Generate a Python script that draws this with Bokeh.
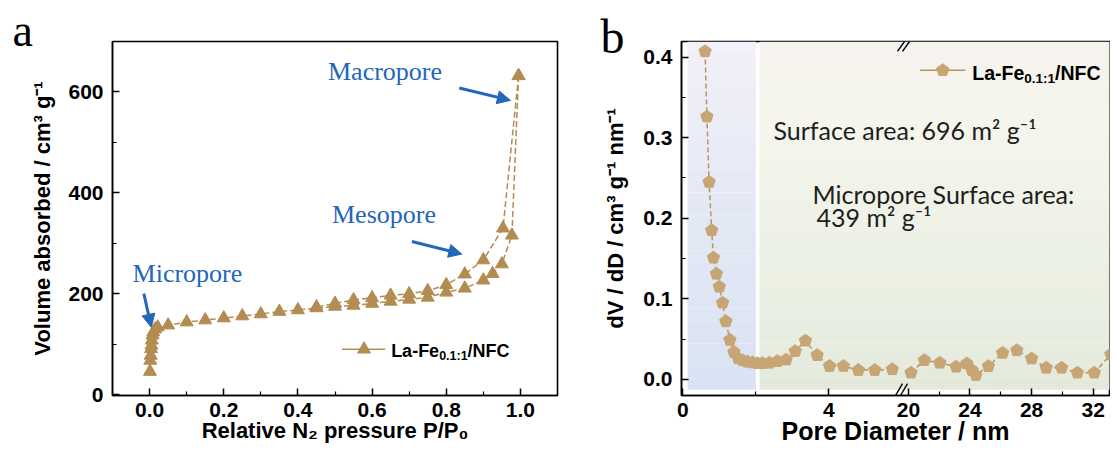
import numpy as np
from bokeh.plotting import figure
from bokeh.layouts import row
from bokeh.models import (Range1d, FixedTicker, NumeralTickFormatter, CustomJSTickFormatter,
                          Label, Arrow, NormalHead, BoxAnnotation)
from bokeh.embed import file_html
from bokeh.resources import INLINE

# ---------------- data: panel a (N2 adsorption / desorption isotherm) ----------------
ads_p = [0.001, 0.002, 0.003, 0.004, 0.005, 0.006, 0.008, 0.010, 0.015, 0.022, 0.05, 0.10,
         0.15, 0.20, 0.25, 0.30, 0.35, 0.40, 0.45, 0.50, 0.55, 0.60, 0.65, 0.70, 0.75, 0.80,
         0.85, 0.90, 0.925, 0.95, 0.977, 0.995]
ads_v = [46, 68, 78, 91, 98, 108, 118, 124, 130, 134, 138, 144, 148, 152, 156, 160, 165, 168,
         172, 175, 177, 181, 185, 189, 193, 203, 211, 227, 240, 259, 316, 632]
des_p = [0.995, 0.953, 0.90, 0.85, 0.80, 0.75, 0.70, 0.65, 0.60, 0.55, 0.50, 0.45]
des_v = [632, 330, 267, 239, 218, 206, 200, 197, 192, 188, 181, 174]

# ---------------- data: panel b (pore size distribution, broken x axis) ----------------
pd_lo = [0.61, 0.66, 0.72, 0.79, 0.84, 0.92, 1.00, 1.09, 1.18, 1.29, 1.40, 1.52, 1.64, 1.77,
         1.91, 2.05, 2.18, 2.37, 2.59, 2.83, 3.08, 3.36, 3.68, 4.02, 4.40, 4.81, 5.26, 5.74]
dv_lo = [0.407, 0.326, 0.245, 0.185, 0.151, 0.131, 0.115, 0.095, 0.072, 0.049, 0.034, 0.026,
         0.0235, 0.0218, 0.021, 0.020, 0.020, 0.0205, 0.0226, 0.0245, 0.035, 0.048, 0.030,
         0.0165, 0.0165, 0.0115, 0.0115, 0.0125]
pd_hi = [20.17, 21.04, 22.04, 23.10, 23.80, 24.13, 24.38, 25.20, 26.12, 27.04, 28.00, 28.95,
         29.95, 30.97, 32.07, 33.15]
dv_hi = [0.0082, 0.0238, 0.0205, 0.0156, 0.0196, 0.0115, 0.0054, 0.0164, 0.0328, 0.036,
         0.0258, 0.0143, 0.0143, 0.0082, 0.0082, 0.031]

a_xticks = [0.0, 0.2, 0.4, 0.6, 0.8, 1.0]
a_yticks = [0, 200, 400, 600]
b_yticks = [0.0, 0.1, 0.2, 0.3, 0.4]
b_xticks_lo = [0, 4]
b_xticks_hi = [20, 24, 28, 32]

legend_parts = ("La-Fe", "0.1:1", "/NFC")

# ---------------- styles ----------------
SANS = "Liberation Sans"
SERIF = "Liberation Serif"
CAL = "Lato"
C_A = "#b38c52"
C_BF = "#c8a574"
C_BL = "#b8955f"
BLUE = "#2366bb"

H = 448
TOP = 41
FH = 354
BOT = H - TOP - FH


def base_style(p):
    p.grid.visible = False
    p.outline_line_color = "black"
    p.outline_line_width = 1.6
    p.outline_line_alpha = 1
    p.background_fill_color = "white"
    p.border_fill_color = "white"


def style_axis(ax, tick_fs, lab_fs, lstand, astand):
    ax.axis_line_width = 1.5
    ax.axis_line_color = "black"
    ax.major_tick_in = 7
    ax.major_tick_out = 0
    ax.minor_tick_in = 4
    ax.minor_tick_out = 0
    ax.major_tick_line_width = 1.5
    ax.minor_tick_line_width = 1.2
    ax.major_tick_line_color = "black"
    ax.minor_tick_line_color = "black"
    ax.major_label_text_font = SANS
    ax.major_label_text_font_style = "bold"
    ax.major_label_text_font_size = f"{tick_fs}px"
    ax.major_label_text_color = "black"
    ax.major_label_standoff = lstand
    ax.axis_label_text_font = SANS
    ax.axis_label_text_font_style = "bold"
    ax.axis_label_text_font_size = f"{lab_fs}px"
    ax.axis_label_text_color = "black"
    ax.axis_label_standoff = astand


def panel_letter(p, letter, size, offset, standoff):
    p.title.text = letter
    p.title.text_font = SERIF
    p.title.text_font_style = "normal"
    p.title.text_font_size = f"{size}px"
    p.title.text_color = "black"
    p.title.align = "left"
    p.title.offset = offset
    p.title.standoff = standoff


# ======================= panel a =======================
pa = figure(width=600, height=H, x_range=Range1d(-0.1, 1.1), y_range=Range1d(-1.4, 700),
            output_backend="svg", toolbar_location=None,
            min_border_left=112, min_border_right=43, min_border_top=TOP, min_border_bottom=BOT)
base_style(pa)
panel_letter(pa, "a", 46, -100, -29)
pa.xaxis.ticker = FixedTicker(ticks=a_xticks, minor_ticks=[0.1, 0.3, 0.5, 0.7, 0.9])
pa.yaxis.ticker = FixedTicker(ticks=a_yticks, minor_ticks=[100, 300, 500])
pa.xaxis.formatter = NumeralTickFormatter(format="0.0")
pa.yaxis.formatter = NumeralTickFormatter(format="0")
pa.xaxis.axis_label = "Relative N\u2082 pressure P/P\u2080"
pa.yaxis.axis_label = "Volume absorbed / cm\u00b3 g\u207b\u00b9"
style_axis(pa.xaxis[0], 21, 22, 7, -2)
style_axis(pa.yaxis[0], 21, 22, 9, 10)

pa.line(ads_p, ads_v, line_color=C_A, line_width=1.5, line_dash="6 3")
pa.line(des_p, des_v, line_color=C_A, line_width=1.5, line_dash="6 3")
pa.scatter(ads_p, ads_v, marker="triangle", size=13, fill_color=C_A, line_color=C_A)
pa.scatter(des_p, des_v, marker="triangle", size=13, fill_color=C_A, line_color=C_A)


# reference-pixel helpers for annotation placement (panel a)
def ax_(px):
    return (px - 150.0) / 370.0


def ay_(py):
    return (398.4 - py) / 0.5107


for txt, px, py in (("Macropore", 328, 71), ("Mesopore", 332, 216), ("Micropore", 133, 276)):
    pa.add_layout(Label(x=ax_(px), y=ay_(py), text=txt, text_font=SERIF, text_font_size="26px",
                        text_color=BLUE, text_baseline="alphabetic", text_align="left"))
for (x0, y0, x1, y1) in ((459, 88, 510, 100.5), (411.7, 243.3, 461.5, 256), (144.3, 296, 151.7, 330)):
    pa.add_layout(Arrow(end=NormalHead(size=13, fill_color=BLUE, line_color=BLUE, line_width=1),
                        x_start=ax_(x0), y_start=ay_(y0), x_end=ax_(x1), y_end=ay_(y1),
                        line_color=BLUE, line_width=3))

# legend a (custom, to allow subscript)
pa.line([ax_(342), ax_(385)], [ay_(352.3), ay_(352.3)], line_color=C_A, line_width=1.5)
pa.scatter([ax_(364)], [ay_(352.3)], marker="triangle", size=13, fill_color=C_A, line_color=C_A)
fs_main, fs_sub = 18, 12.5
w1 = 2.667 * fs_main
w2 = 2.279 * fs_sub
for txt, off, fs, dy in ((legend_parts[0], 0, fs_main, 0), (legend_parts[1], w1, fs_sub, -5),
                         (legend_parts[2], w1 + w2, fs_main, 0)):
    pa.add_layout(Label(x=ax_(391), y=ay_(354), x_offset=off, y_offset=dy, text=txt,
                        text_font=SANS, text_font_style="bold", text_font_size=f"{fs}px",
                        text_color="black", text_baseline="alphabetic"))

# ======================= panel b =======================
PX_L = 36.5          # px per nm, left segment
PX_H = 15.4          # px per nm, right segment
FWB = 428
XS0 = -0.036
XE0 = XS0 + FWB / PX_L
BRK_LO = 6.18        # left-segment coordinate where 20 nm sits
HS0 = 20 - (BRK_LO - XS0) * PX_L / PX_H
HE0 = HS0 + FWB / PX_H
YB0, YB1 = -0.020, 0.4193


def hi2lo(t):
    return XS0 + (t - HS0) * PX_H / PX_L


pb = figure(width=510, height=H, x_range=Range1d(XS0, XE0), y_range=Range1d(YB0, YB1),
            output_backend="svg", toolbar_location=None,
            min_border_left=81, min_border_right=1, min_border_top=TOP, min_border_bottom=BOT)
pb.extra_x_ranges = {"hi": Range1d(HS0, HE0)}
base_style(pb)
panel_letter(pb, "b", 48, -81, -43)


# background shading (micropore / meso-macropore regions), vertical gradients
def hex2rgb(h):
    h = h.lstrip("#")
    return np.array([int(h[i:i + 2], 16) for i in (0, 2, 4)], dtype=float)


def grad(stops, t):
    ts = [s[0] for s in stops]
    for i in range(len(stops) - 1):
        if ts[i] <= t <= ts[i + 1]:
            f = (t - ts[i]) / (ts[i + 1] - ts[i])
            c = hex2rgb(stops[i][1]) * (1 - f) + hex2rgb(stops[i + 1][1]) * f
            return "#%02x%02x%02x" % tuple(int(round(v)) for v in c)
    return stops[-1][1]


blue_stops = [(0.0, "#d9e3f3"), (0.6, "#e6e9f5"), (1.0, "#f2f0f8")]
green_stops = [(0.0, "#e3eadc"), (0.45, "#eef2e6"), (0.8, "#f5f5ec"), (1.0, "#f6f2ee")]
NB = 30
edges = np.linspace(-0.013, YB1, NB + 1)
for i in range(NB):
    t = (i + 0.5) / NB
    pb.add_layout(BoxAnnotation(left=0.13, right=2.0, bottom=edges[i], top=edges[i + 1],
                                fill_color=grad(blue_stops, t), fill_alpha=1, line_color=None,
                                level="underlay"))
    pb.add_layout(BoxAnnotation(left=2.1, right=XE0 + 1, bottom=edges[i], top=edges[i + 1],
                                fill_color=grad(green_stops, t), fill_alpha=1, line_color=None,
                                level="underlay"))

pb.xaxis.ticker = FixedTicker(ticks=b_xticks_lo + [hi2lo(t) for t in b_xticks_hi],
                              minor_ticks=[2] + [hi2lo(t) for t in (22, 26, 30)])
pb.xaxis.formatter = CustomJSTickFormatter(
    args=dict(xs0=XS0, hs0=HS0, r=PX_L / PX_H, brk=BRK_LO - 0.1),
    code="if (tick < brk) { return tick.toFixed(0); } return Math.round(hs0 + (tick - xs0) * r).toFixed(0);")
pb.yaxis.ticker = FixedTicker(ticks=b_yticks, minor_ticks=[0.05, 0.15, 0.25, 0.35])
pb.yaxis.formatter = NumeralTickFormatter(format="0.0")
pb.xaxis.axis_label = "Pore Diameter / nm"
pb.yaxis.axis_label = "dV / dD / cm\u00b3 g\u207b\u00b9 nm\u207b\u00b9"
style_axis(pb.xaxis[0], 21, 25, 7, -3)
style_axis(pb.yaxis[0], 21, 22, 9, 12)

pb.line(pd_lo, dv_lo, line_color=C_BL, line_width=1.5, line_dash="5 3")
pb.line(pd_hi, dv_hi, line_color=C_BL, line_width=1.5, line_dash="5 3", x_range_name="hi")


def pent(p, xs, ys, rng="default"):
    try:
        return p.ngon(x=xs, y=ys, radius=6.5, radius_units="screen", n=5, angle=0,
                      fill_color=C_BF, line_color=C_BF, x_range_name=rng)
    except Exception:
        return p.scatter(xs, ys, marker="hex", size=12, fill_color=C_BF, line_color=C_BF,
                         x_range_name=rng)


pent(pb, pd_lo, dv_lo)
pent(pb, pd_hi, dv_hi, "hi")


# reference-pixel helpers (panel b)
def bx_(px):
    return (px - 682.3) / 36.5


def bxh_(px):
    return 20 + (px - 908.0) / 15.68


def by_(py):
    return (382.7 - py) / 815.0


# axis-break marks "//" drawn just inside the top and bottom frame lines
brk_x0 = [bx_(v) for v in (897, 902, 895, 900)]
brk_x1 = [bx_(v) for v in (904, 909, 902, 907)]
brk_y0 = [by_(51), by_(51), YB0, YB0]
brk_y1 = [YB1, YB1, by_(387), by_(387)]
pb.segment(x0=brk_x0, y0=brk_y0, x1=brk_x1, y1=brk_y1, line_color="black", line_width=1.4)

# legend b
pb.line([bxh_(920), bxh_(966)], [by_(70), by_(70)], line_color=C_BL, line_width=1.5,
        x_range_name="hi")
pent(pb, [bxh_(943)], [by_(70)], "hi")
fs_main_b, fs_sub_b = 19.5, 13.5
w1b = 2.667 * fs_main_b
w2b = 2.279 * fs_sub_b
for txt, off, fs, dy in ((legend_parts[0], 0, fs_main_b, 0), (legend_parts[1], w1b, fs_sub_b, -5),
                         (legend_parts[2], w1b + w2b, fs_main_b, 0)):
    pb.add_layout(Label(x=bxh_(973), y=by_(73), x_offset=off, y_offset=dy, text=txt,
                        x_range_name="hi", text_font=SANS, text_font_style="bold",
                        text_font_size=f"{fs}px", text_color="black", text_baseline="alphabetic"))

for txt, px, py in (("Surface area: 696 m\u00b2 g\u207b\u00b9", 773, 130.5),
                    ("Micropore Surface area:", 812, 195.5),
                    ("439 m\u00b2 g\u207b\u00b9", 816, 218)):
    pb.add_layout(Label(x=bx_(px), y=by_(py), text=txt, text_font=CAL, text_font_size="25px",
                        text_color="#1e1e1e", text_baseline="alphabetic"))

layout = row(pa, pb)
open("out.html", "w").write(file_html(layout, INLINE, "chart"))
